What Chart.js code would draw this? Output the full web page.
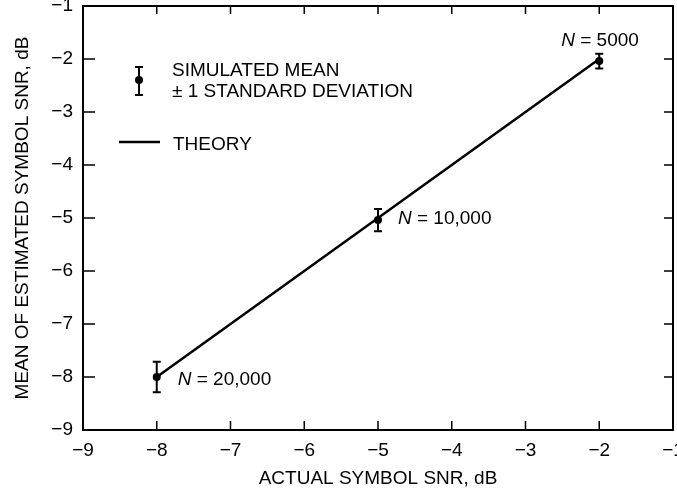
<!DOCTYPE html>
<html>
<head>
<meta charset="utf-8">
<script src="https://cdn.jsdelivr.net/npm/chart.js@4.4.0/dist/chart.umd.min.js"></script>
<style>
  html, body { margin: 0; padding: 0; background: #fff; overflow: hidden; }
  #wrap { width: 677px; height: 498px; }
</style>
</head>
<body>
<div id="wrap"><canvas id="snrChart"></canvas></div>
<script>
// data
const actualSnr = [-8, -5, -2];
const meanSnr = [-8.0, -5.04, -2.04];
const stdDev = [0.29, 0.21, 0.14];
const sampleSizes = ['20,000', '10,000', '5000'];
const theoryX = [-8, -2];
const theoryY = [-8, -2];

const FONT = '"Liberation Sans", Arial, Helvetica, sans-serif';
const minus = v => (v < 0 ? '\u2212' + Math.abs(v) : String(v));

// label placement relative to each point (px)
const labelOffsets = [[21, 8], [20, 4], [-38, -15]];

// Frame, inward ticks, error bars, legend and N labels
const decorations = {
  id: 'decorations',
  afterDatasetsDraw(chart) {
    const { ctx, chartArea: a, scales: { x, y } } = chart;
    ctx.save();
    ctx.strokeStyle = '#000';
    ctx.fillStyle = '#000';

    // frame
    ctx.lineWidth = 2;
    ctx.strokeRect(a.left, a.top, a.right - a.left, a.bottom - a.top);

    // inward ticks
    ctx.lineWidth = 1.5;
    ctx.beginPath();
    x.ticks.forEach(t => {
      const px = x.getPixelForValue(t.value);
      ctx.moveTo(px, a.bottom); ctx.lineTo(px, a.bottom - 9);
      ctx.moveTo(px, a.top); ctx.lineTo(px, a.top + 8);
    });
    y.ticks.forEach(t => {
      const py = y.getPixelForValue(t.value);
      ctx.moveTo(a.left, py); ctx.lineTo(a.left + 12, py);
      ctx.moveTo(a.right, py); ctx.lineTo(a.right - 9, py);
    });
    ctx.stroke();

    // error bars
    ctx.lineWidth = 2;
    ctx.beginPath();
    actualSnr.forEach((v, i) => {
      const px = x.getPixelForValue(v);
      const top = y.getPixelForValue(meanSnr[i] + stdDev[i]);
      const bot = y.getPixelForValue(meanSnr[i] - stdDev[i]);
      ctx.moveTo(px, top); ctx.lineTo(px, bot);
      ctx.moveTo(px - 4, top); ctx.lineTo(px + 4, top);
      ctx.moveTo(px - 4, bot); ctx.lineTo(px + 4, bot);
    });
    ctx.stroke();

    // N labels
    ctx.textBaseline = 'alphabetic';
    ctx.textAlign = 'left';
    actualSnr.forEach((v, i) => {
      const px = x.getPixelForValue(v) + labelOffsets[i][0];
      const py = y.getPixelForValue(meanSnr[i]) + labelOffsets[i][1];
      ctx.font = `italic 19px ${FONT}`;
      ctx.fillText('N', px, py);
      const w = ctx.measureText('N').width;
      ctx.font = `19px ${FONT}`;
      ctx.fillText(' = ' + sampleSizes[i], px + w, py);
    });

    // legend
    ctx.font = `19px ${FONT}`;
    ctx.fillText('SIMULATED MEAN', 172, 76);
    ctx.fillText('\u00B1 1 STANDARD DEVIATION', 172, 97);
    ctx.fillText('THEORY', 173, 150);

    ctx.lineWidth = 2;
    ctx.beginPath();
    ctx.moveTo(139, 67); ctx.lineTo(139, 95);
    ctx.moveTo(135, 67); ctx.lineTo(143, 67);
    ctx.moveTo(135, 95); ctx.lineTo(143, 95);
    ctx.stroke();
    ctx.beginPath();
    ctx.arc(139, 80, 4, 0, Math.PI * 2);
    ctx.fill();

    ctx.lineWidth = 2.5;
    ctx.beginPath();
    ctx.moveTo(119, 142); ctx.lineTo(160, 142);
    ctx.stroke();

    ctx.restore();
  }
};

const ctx = document.getElementById('snrChart').getContext('2d');
const snrChart = new Chart(ctx, {
  type: 'scatter',
  data: {
    datasets: [
      {
        label: 'Theory',
        type: 'line',
        data: theoryX.map((v, i) => ({ x: v, y: theoryY[i] })),
        borderColor: '#000',
        borderWidth: 2.5,
        pointRadius: 0,
        fill: false
      },
      {
        label: 'Simulated mean',
        data: actualSnr.map((v, i) => ({ x: v, y: meanSnr[i] })),
        backgroundColor: '#000',
        borderWidth: 0,
        pointRadius: 4
      }
    ]
  },
  options: {
    responsive: true,
    maintainAspectRatio: false,
    animation: false,
    events: [],
    layout: { padding: { top: 6, right: 2, left: 0, bottom: 0 } },
    plugins: {
      legend: { display: false },
      tooltip: { enabled: false }
    },
    scales: {
      x: {
        type: 'linear',
        min: -9,
        max: -1,
        grid: { display: false },
        border: { display: false },
        ticks: {
          stepSize: 1,
          padding: 1,
          color: '#000',
          font: { family: FONT, size: 19 },
          callback: minus
        },
        title: {
          display: true,
          text: 'ACTUAL SYMBOL SNR, dB',
          color: '#000',
          font: { family: FONT, size: 19 },
          padding: { top: 0, bottom: 8 }
        },
        afterFit(s) { s.height = 68; s.paddingLeft = 0; s.paddingRight = 0; }
      },
      y: {
        type: 'linear',
        min: -9,
        max: -1,
        grid: { display: false },
        border: { display: false },
        ticks: {
          stepSize: 1,
          padding: 2,
          color: '#000',
          font: { family: FONT, size: 19 },
          callback: minus
        },
        title: {
          display: true,
          text: 'MEAN OF ESTIMATED SYMBOL SNR, dB',
          color: '#000',
          font: { family: FONT, size: 19 },
          padding: { top: 11, bottom: 0 }
        },
        afterFit(s) { s.width = 83; s.paddingTop = 0; s.paddingBottom = 0; }
      }
    }
  },
  plugins: [decorations]
});
</script>
</body>
</html>
